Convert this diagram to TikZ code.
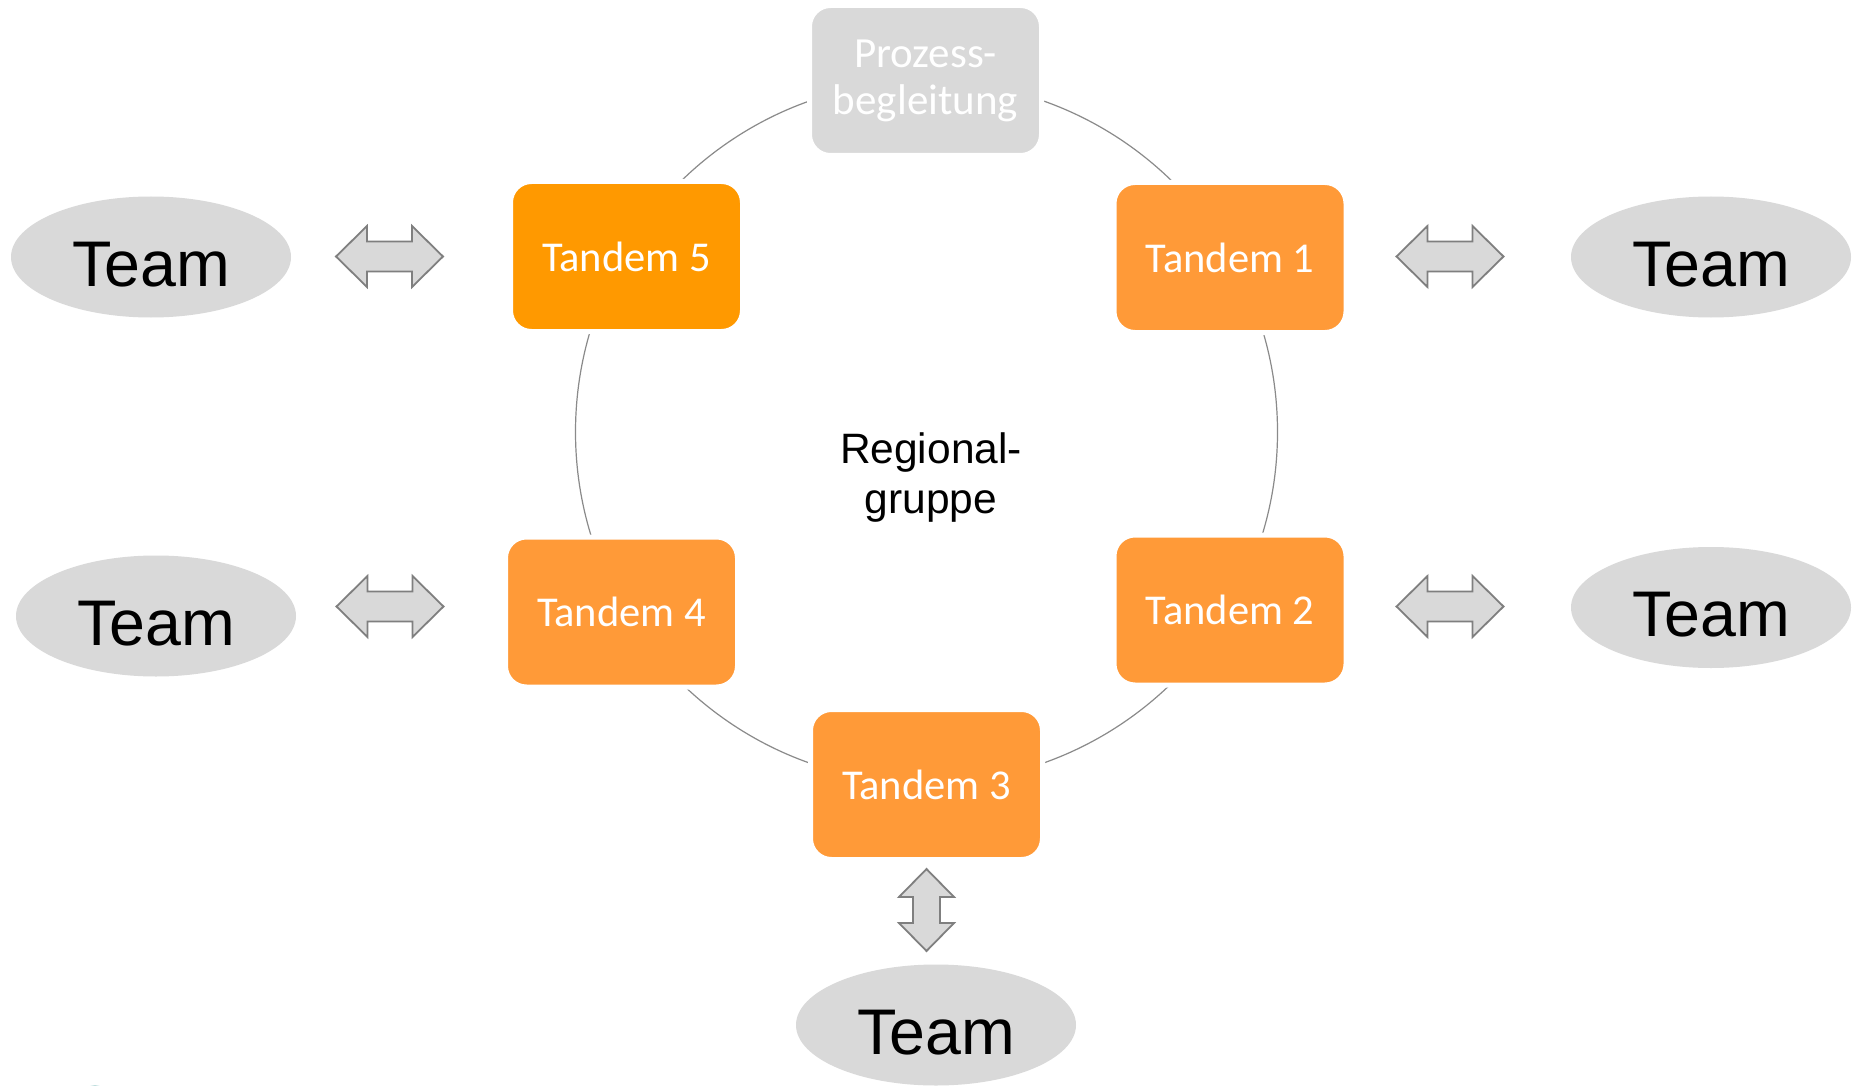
\documentclass[tikz,border=0pt]{standalone}
\usepackage{fontspec}
\usetikzlibrary{shapes.geometric}
\newfontfamily\boxfont{Carlito}
\newfontfamily\labelfont{Liberation Sans}
\definecolor{ringgray}{HTML}{8A8A8A}
\definecolor{softgray}{HTML}{D9D9D9}
\definecolor{edgegray}{HTML}{7F7F7F}
\definecolor{tandemorange}{HTML}{FF9A38}
\definecolor{leadorange}{HTML}{FF9900}
\definecolor{cornerteal}{HTML}{BFDEDE}
\begin{document}
\begin{tikzpicture}[x=1pt,y=-1pt,
  roundbox/.style={rounded corners=21pt, minimum width=232pt, minimum height=150pt,
    inner sep=0pt, outer sep=0pt, draw=white, line width=5pt, text=white, align=center,
    font=\boxfont\fontsize{42.5}{47}\selectfont},
  tandem/.style={roundbox, fill=tandemorange},
  teamoval/.style={ellipse, fill=softgray, minimum width=280pt, minimum height=121pt,
    inner sep=0pt, text=black, text height=58pt, text depth=0pt,
    font=\labelfont\fontsize{64.5}{64.5}\selectfont},
  blockarrow/.style={fill=softgray, draw=edgegray, line width=1.8pt, line join=miter},
  pics/dblarrow/.style n args={4}{code={
    \draw[blockarrow] (-#1,0) -- ({-#1+#4},-#2) -- ({-#1+#4},-#3) -- ({#1-#4},-#3)
      -- ({#1-#4},-#2) -- (#1,0) -- ({#1-#4},#2) -- ({#1-#4},#3) -- ({-#1+#4},#3)
      -- ({-#1+#4},#2) -- cycle;}}
]
\useasboundingbox (0,0) rectangle (1853,1086);
\fill[white] (0,0) rectangle (1853,1086);
\begin{scope}
  \clip (0,0) rectangle (1853,1086);
  \fill[cornerteal] (95,1097) circle [radius=12pt];
\end{scope}

% ring of the regional group
\coordinate (ringcenter) at (926.5,432);
\draw[ringgray, line width=1.2pt] (ringcenter) circle [radius=351pt];

\node[font=\labelfont\fontsize{42.5}{50}\selectfont, align=center] (regio) at (931,478)
  {Regional-\\gruppe};

% members on the ring
\node[roundbox, fill=softgray, font=\boxfont\fontsize{43}{47}\selectfont] (pb) at (925.5,80.5)
  {Prozess-\\begleitung};
\node[tandem] (t1) at (1230,257.5) {Tandem 1};
\node[tandem] (t2) at (1230,610) {Tandem 2};
\node[tandem] (t3) at (926.5,784.5) {Tandem 3};
\node[tandem] (t4) at (621.5,612) {Tandem 4};
\node[roundbox, fill=leadorange] (t5) at (626.5,256.5) {Tandem 5};

% teams outside the ring
\node[teamoval] (team1) at (1711,257) {Team};
\node[teamoval] (team2) at (1711,607.5) {Team};
\node[teamoval] (team3) at (936,1025) {Team};
\node[teamoval] (team4) at (156,616) {Team};
\node[teamoval] (team5) at (151,257) {Team};

% exchange arrows between tandems and teams
\pic at (1450,256.5) {dblarrow={53.5}{30.5}{15}{31}};
\pic at (1450,606.5) {dblarrow={53.5}{30.5}{15}{31}};
\pic[rotate=90] at (926.5,910) {dblarrow={41}{27.5}{13.5}{28}};
\pic at (390,606.5) {dblarrow={53.5}{30.5}{15}{31}};
\pic at (389.5,256.5) {dblarrow={53.5}{30.5}{15}{31}};
\end{tikzpicture}
\end{document}
